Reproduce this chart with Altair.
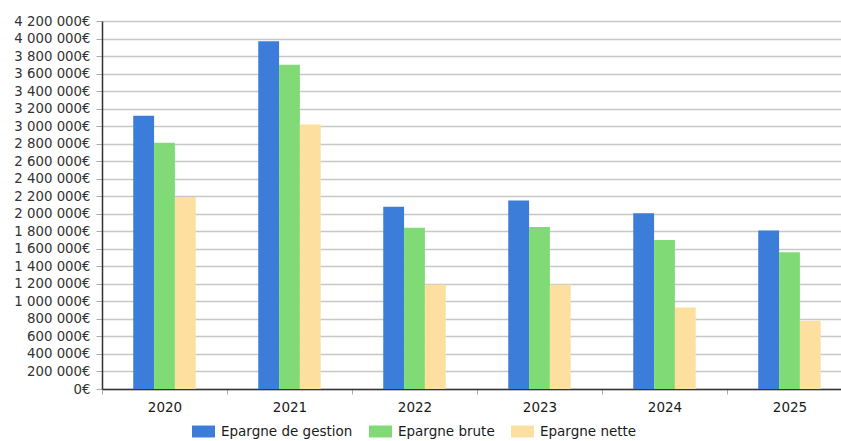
import altair as alt
import pandas as pd

years = ["2020", "2021", "2022", "2023", "2024", "2025"]
series = ["Epargne de gestion", "Epargne brute", "Epargne nette"]
gestion = [3120000, 3970000, 2080000, 2150000, 2005000, 1810000]
brute = [2810000, 3700000, 1840000, 1850000, 1700000, 1560000]
nette = [2190000, 3020000, 1190000, 1190000, 930000, 780000]
colors = ["#3b7dd8", "#80db76", "#fde09f"]
y_ticks = list(range(0, 4200001, 200000))

rows = []
for vals, s in zip([gestion, brute, nette], series):
    for y, v in zip(years, vals):
        rows.append({"Année": y, "Série": s, "Valeur": v})
df = pd.DataFrame(rows)

font = "DejaVu Sans"

chart = alt.Chart(df).mark_bar().encode(
    x=alt.X("Année:N", sort=years, title=None,
            scale=alt.Scale(range=[0, 750], paddingInner=0, paddingOuter=0),
            axis=alt.Axis(labelAngle=0, labelFont=font, labelFontSize=13.5, labelColor="#1a1a1a",
                          labelPadding=6, domainColor="#333333", domainWidth=1.5,
                          tickBand="extent", tickColor="#aaaaaa", tickSize=5, grid=False)),
    xOffset=alt.XOffset("Série:N", sort=series,
                        scale=alt.Scale(range=[31.25, 93.75], paddingInner=0, paddingOuter=0)),
    y=alt.Y("Valeur:Q", title=None,
            scale=alt.Scale(domain=[0, 4200000], nice=False),
            axis=alt.Axis(values=y_ticks,
                          labelExpr="replace(replace(format(datum.value, ','), ',', ' '), ',', ' ') + '€'",
                          labelFont=font, labelFontSize=13.3, labelColor="#333333", labelPadding=6,
                          domainColor="#333333", domainWidth=1.5, tickColor="#aaaaaa", tickSize=6,
                          grid=True, gridColor="#c8c8c8", gridWidth=1.4)),
    color=alt.Color("Série:N", sort=series, scale=alt.Scale(domain=series, range=colors),
                    legend=alt.Legend(title=None, orient="none", direction="horizontal",
                                      legendX=90, legendY=399, padding=0,
                                      symbolType="M-1,-0.52H1V0.52H-1Z", symbolSize=529,
                                      symbolStrokeWidth=0, labelFont=font, labelFontSize=13.5,
                                      labelColor="#1a1a1a", labelOffset=6, columnPadding=16)),
).properties(
    width=739, height=368,
    background="white",
    autosize=alt.AutoSizeParams(type="none"),
    padding={"left": 102, "top": 21, "right": 0, "bottom": 52},
).configure_view(stroke=None)

chart.save("out.html", embed_options={"renderer": "svg", "actions": False})
